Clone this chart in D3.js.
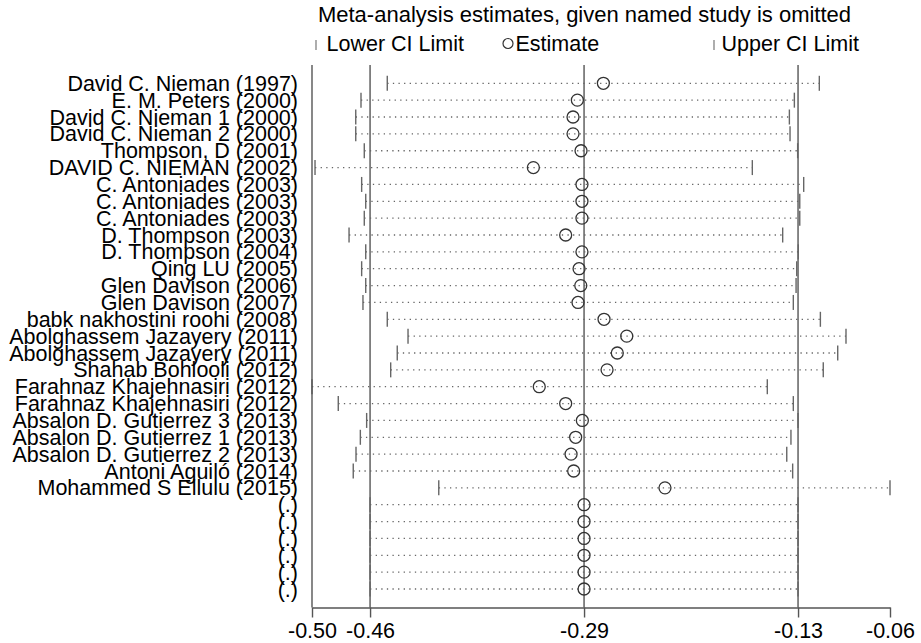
<!DOCTYPE html>
<html>
<head>
<meta charset="utf-8">
<script src="https://cdn.jsdelivr.net/npm/d3@7"></script>
<style>
  body { margin: 0; background: #fff; }
  svg { font-family: "Liberation Sans", Arial, sans-serif; }
</style>
</head>
<body>
<svg id="viz"></svg>
<script>
// studies (row labels, top to bottom)
const studies = [
    "David C. Nieman (1997)", "E. M. Peters (2000)", "David C. Nieman 1 (2000)", "David C. Nieman 2 (2000)",
    "Thompson, D (2001)", "DAVID C. NIEMAN (2002)", "C. Antoniades (2003)", "C. Antoniades (2003)",
    "C. Antoniades (2003)", "D. Thompson (2003)", "D. Thompson (2004)", "Qing LU (2005)",
    "Glen Davison (2006)", "Glen Davison (2007)", "babk nakhostini roohi (2008)", "Abolghassem Jazayery (2011)",
    "Abolghassem Jazayery (2011)", "Shahab Bohlooli (2012)", "Farahnaz Khajehnasiri (2012)", "Farahnaz Khajehnasiri (2012)",
    "Absalon D. Gutierrez 3 (2013)", "Absalon D. Gutierrez 1 (2013)", "Absalon D. Gutierrez 2 (2013)", "Antoni Aguiló (2014)",
    "Mohammed S Ellulu (2015)", "(.)", "(.)", "(.)", "(.)", "(.)", "(.)"
]

const lowerCI = [
    -0.4427, -0.4627, -0.4667, -0.4667, -0.4602, -0.4977, -0.4622, -0.4591,
    -0.4602, -0.4718, -0.4591, -0.4622, -0.4591, -0.4612, -0.4427, -0.4269,
    -0.4351, -0.4401, -0.5000, -0.4800, -0.4584, -0.4632, -0.4665, -0.4686,
    -0.4035, -0.4558, -0.4558, -0.4558, -0.4558, -0.4558, -0.4558
]

const estimate = [
    -0.2782, -0.2980, -0.3013, -0.3013, -0.2952, -0.3315, -0.2945, -0.2945,
    -0.2945, -0.3069, -0.2945, -0.2967, -0.2954, -0.2975, -0.2777, -0.2604,
    -0.2676, -0.2754, -0.3270, -0.3069, -0.2942, -0.2993, -0.3028, -0.3008,
    -0.2313, -0.2929, -0.2929, -0.2929, -0.2929, -0.2929, -0.2929
]

const upperCI = [
    -0.1138, -0.1328, -0.1366, -0.1361, -0.1303, -0.1648, -0.1257, -0.1287,
    -0.1287, -0.1417, -0.1298, -0.1310, -0.1315, -0.1336, -0.1130, -0.0935,
    -0.0998, -0.1108, -0.1534, -0.1336, -0.1300, -0.1354, -0.1386, -0.1341,
    -0.0600, -0.1300, -0.1300, -0.1300, -0.1300, -0.1300, -0.1300
]

// pooled estimate with all studies (reference lines)
const overall = [-0.4558, -0.2929, -0.1300]
const tickVals = [-0.50, -0.4558, -0.2929, -0.1300, -0.06]

const legendItems = ["Lower CI Limit", "Estimate", "Upper CI Limit"]
const title = "Meta-analysis estimates, given named study is omitted"

width = 921,
    height = 643
var margin = { top: 65, right: 31, bottom: 35.5, left: 312 }

var data = studies.map((s, i) => ({ i: i, name: s, lo: lowerCI[i], est: estimate[i], hi: upperCI[i] }))

var svg = d3.select("#viz")
    .attr("width", width)
    .attr("height", height)

x = d3.scaleLinear()
    .domain([d3.min(lowerCI), d3.max(upperCI)])
    .range([margin.left, width - margin.right])
y = d3.scalePoint()
    .domain(data.map(d => d.i))
    .range([83.3, 589])

const axisY = height - margin.bottom

// title + legend
svg.append("text")
    .attr("x", 584.5).attr("y", 22)
    .attr("text-anchor", "middle")
    .style("font-size", "22px")
    .text(title)

var leg = svg.append("g").style("font-size", "21.5px")
leg.append("line").attr("x1", 316).attr("x2", 316).attr("y1", 40).attr("y2", 50)
    .attr("stroke", "#777").attr("stroke-width", 1.2)
leg.append("text").attr("x", 326.5).attr("y", 50.5).text(legendItems[0])
leg.append("circle").attr("cx", 508).attr("cy", 43.5).attr("r", 5)
    .attr("fill", "none").attr("stroke", "#333").attr("stroke-width", 1.2)
leg.append("text").attr("x", 515.5).attr("y", 50.5).text(legendItems[1])
leg.append("line").attr("x1", 714).attr("x2", 714).attr("y1", 40).attr("y2", 50)
    .attr("stroke", "#777").attr("stroke-width", 1.2)
leg.append("text").attr("x", 721.5).attr("y", 50.5).text(legendItems[2])

// row labels
svg.append("g")
    .attr("text-anchor", "end")
    .style("font-size", "21.5px")
    .selectAll("text")
    .data(data)
    .join("text")
    .attr("x", 298)
    .attr("y", d => y(d.i))
    .attr("dy", "0.35em")
    .text(d => d.name)

// reference lines
svg.append("g")
    .selectAll("line")
    .data(overall)
    .join("line")
    .attr("x1", d => x(d)).attr("x2", d => x(d))
    .attr("y1", margin.top).attr("y2", axisY)
    .attr("stroke", "#555").attr("stroke-width", 1.4)

// dotted CI lines
var rows = svg.append("g")
rows.selectAll(".ci")
    .data(data)
    .join("line").attr("class", "ci")
    .attr("x1", d => x(d.lo)).attr("x2", d => x(d.hi))
    .attr("y1", d => y(d.i)).attr("y2", d => y(d.i))
    .attr("stroke", "#666").attr("stroke-width", 1.3)
    .attr("stroke-dasharray", "1.3,4.3")

// CI limit ticks
rows.selectAll(".lo")
    .data(data)
    .join("line").attr("class", "lo")
    .attr("x1", d => x(d.lo)).attr("x2", d => x(d.lo))
    .attr("y1", d => y(d.i) - 7.5).attr("y2", d => y(d.i) + 7.5)
    .attr("stroke", "#666").attr("stroke-width", 1.4)
rows.selectAll(".hi")
    .data(data)
    .join("line").attr("class", "hi")
    .attr("x1", d => x(d.hi)).attr("x2", d => x(d.hi))
    .attr("y1", d => y(d.i) - 7.5).attr("y2", d => y(d.i) + 7.5)
    .attr("stroke", "#666").attr("stroke-width", 1.4)

// estimates
rows.selectAll("circle")
    .data(data)
    .join("circle")
    .attr("cx", d => x(d.est))
    .attr("cy", d => y(d.i))
    .attr("r", 6)
    .attr("fill", "none")
    .attr("stroke", "#333")
    .attr("stroke-width", 1.3)

// left frame line
svg.append("line")
    .attr("x1", margin.left).attr("x2", margin.left)
    .attr("y1", margin.top).attr("y2", axisY)
    .attr("stroke", "#555").attr("stroke-width", 1.4)

// x axis
xAxis = g => g
    .attr("transform", `translate(0,${axisY})`)
    .call(d3.axisBottom(x).tickValues(tickVals).tickFormat(d => d.toFixed(2)).tickSize(10).tickSizeOuter(0).tickPadding(5))

svg.append("g").attr("class", "xaxis")
    .call(xAxis)
    .call(g => g.selectAll("path, line").attr("stroke", "#555").attr("stroke-width", 1.4))
    .call(g => g.selectAll("text").attr("fill", "#000").style("font-size", "21.5px").style("font-family", "Liberation Sans, Arial, sans-serif"))
</script>
</body>
</html>
